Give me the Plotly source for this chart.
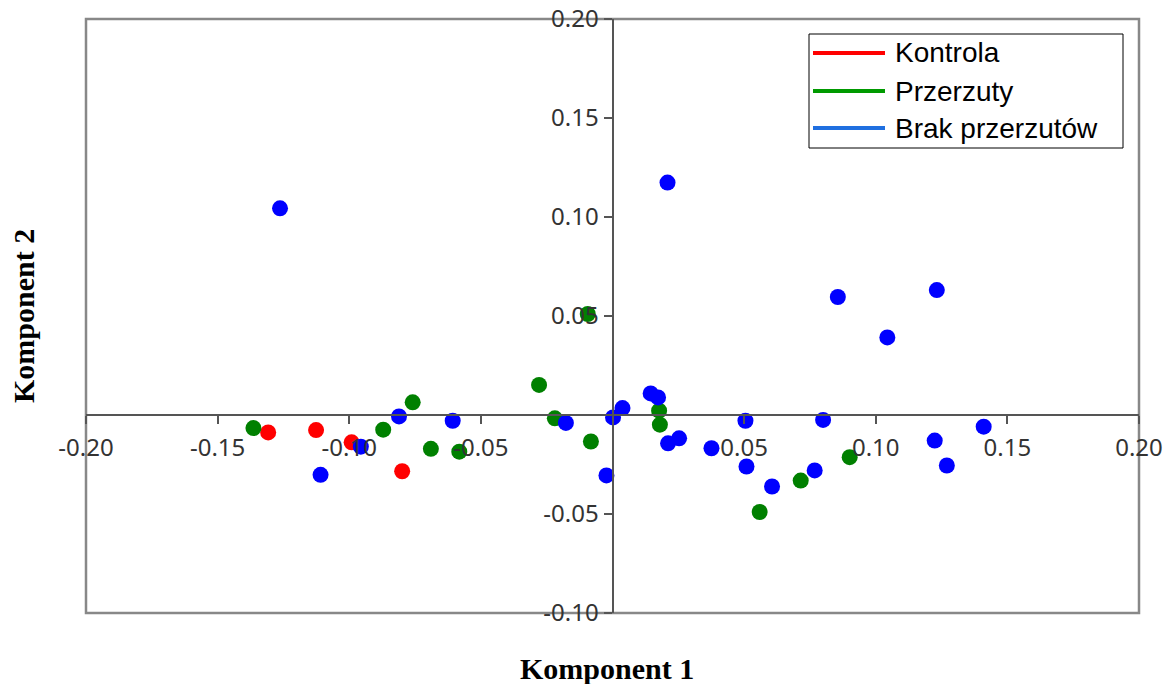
import plotly.graph_objects as go

# ---- data ----
kontrola_x = [-0.1308, -0.1126, -0.0991, -0.0799]
kontrola_y = [-0.0088, -0.0076, -0.0138, -0.0284]

przerzuty_x = [-0.1364, -0.0871, -0.0759, -0.0690, -0.0582, -0.0279, -0.0219,
               -0.0082, -0.0094, 0.0177, 0.0180, 0.0559, 0.0715, 0.0901]
przerzuty_y = [-0.0066, -0.0074, 0.0064, -0.0171, -0.0185, 0.0152, -0.0017,
               -0.0134, 0.0510, 0.0022, -0.0049, -0.0490, -0.0331, -0.0213]

brak_x = [-0.1263, 0.0209, 0.0856, 0.1232, 0.1044, -0.0811, -0.0607, -0.0956,
          -0.1109, -0.0177, 0.0002, 0.0038, -0.0023, 0.0145, 0.0173, 0.0211,
          0.0253, 0.0376, 0.0505, 0.0509, 0.0606, 0.0768, 0.0800, 0.1224,
          0.1270, 0.1410]
brak_y = [0.1044, 0.1174, 0.0596, 0.0631, 0.0392, -0.0007, -0.0029, -0.0160,
          -0.0302, -0.0040, -0.0012, 0.0035, -0.0305, 0.0109, 0.0089, -0.0143,
          -0.0118, -0.0168, -0.0029, -0.0260, -0.0361, -0.0280, -0.0025, -0.0129,
          -0.0255, -0.0059]

x_ticks = [-0.20, -0.15, -0.10, -0.05, 0.05, 0.10, 0.15, 0.20]
x_ticklabels = ["-0.20", "-0.15", "-0.10", "-0.05", "0.05", "0.10", "0.15", "0.20"]
y_ticks = [0.20, 0.15, 0.10, 0.05, -0.05, -0.10]
y_ticklabels = ["0.20", "0.15", "0.10", "0.05", "-0.05", "-0.10"]

series_names = ["Kontrola", "Przerzuty", "Brak przerzutów"]
series_x = [kontrola_x, przerzuty_x, brak_x]
series_y = [kontrola_y, przerzuty_y, brak_y]
marker_colors = ["#ff0000", "#008000", "#0000ff"]
legend_colors = ["#ff0000", "#009a00", "#1f6fe0"]

fig = go.Figure()
for name, xs, ys, col in zip(series_names, series_x, series_y, marker_colors):
    fig.add_trace(go.Scatter(x=xs, y=ys, mode="markers", name=name, showlegend=False,
                             marker=dict(size=16, color=col, line=dict(width=0))))

# plot area in pixels: x 86..1139, y 19..613
L, R, T, B = 86, 1139, 19, 613
def px(xp):
    return (xp - L) / (R - L)
def py(yp):
    return (B - yp) / (B - T)

shapes = [dict(type="rect", xref="paper", yref="paper", x0=0, x1=1, y0=0, y1=1,
               line=dict(color="#888888", width=2.5), layer="below"),
          dict(type="rect", xref="paper", yref="paper", x0=px(809), x1=px(1123),
               y0=py(148), y1=py(34), line=dict(color="#000000", width=1),
               fillcolor="white", layer="above")]
annotations = []
legend_rows = [53, 91, 128]
for name, col, ry in zip(series_names, legend_colors, legend_rows):
    shapes.append(dict(type="line", xref="paper", yref="paper", x0=px(813), x1=px(885),
                       y0=py(ry), y1=py(ry), line=dict(color=col, width=4)))
    annotations.append(dict(text=name, xref="paper", yref="paper", x=px(893), y=py(ry),
                            xanchor="left", yanchor="middle", showarrow=False,
                            font=dict(family="Liberation Sans", size=28, color="#000000")))

annotations += [
    dict(text="<b>Komponent 1</b>", xref="paper", yref="paper", x=px(607), y=py(668),
         xanchor="center", yanchor="middle", showarrow=False,
         font=dict(family="Liberation Serif", size=30, color="#000000")),
    dict(text="<b>Komponent 2</b>", xref="paper", yref="paper", x=px(23), y=py(316),
         xanchor="center", yanchor="middle", showarrow=False, textangle=-90,
         font=dict(family="Liberation Serif", size=30, color="#000000")),
]

tickfont = dict(family="Noto Sans", size=24, color="#333333")
fig.update_layout(
    width=1172, height=684, autosize=False,
    margin=dict(l=L, r=1172 - R, t=T, b=684 - B, pad=0),
    paper_bgcolor="white", plot_bgcolor="white",
    showlegend=False,
    xaxis=dict(range=[-0.2, 0.2], domain=[0, 1], anchor="free", position=1/3,
               automargin=False,
               showgrid=False, zeroline=False, showline=True, linecolor="#555555",
               linewidth=2, ticks="outside", ticklen=8, tickwidth=2, tickcolor="#555555",
               ticklabelstandoff=3,
               tickvals=x_ticks, ticktext=x_ticklabels, tickfont=tickfont),
    yaxis=dict(range=[-0.1, 0.2], domain=[0, 1], anchor="free", position=0.5,
               automargin=False,
               showgrid=False, zeroline=False, showline=True, linecolor="#555555",
               linewidth=2, ticks="outside", ticklen=8, tickwidth=2, tickcolor="#555555",
               tickvals=y_ticks, ticktext=y_ticklabels, tickfont=tickfont),
    shapes=shapes,
    annotations=annotations,
)

fig.write_html("out.html")
